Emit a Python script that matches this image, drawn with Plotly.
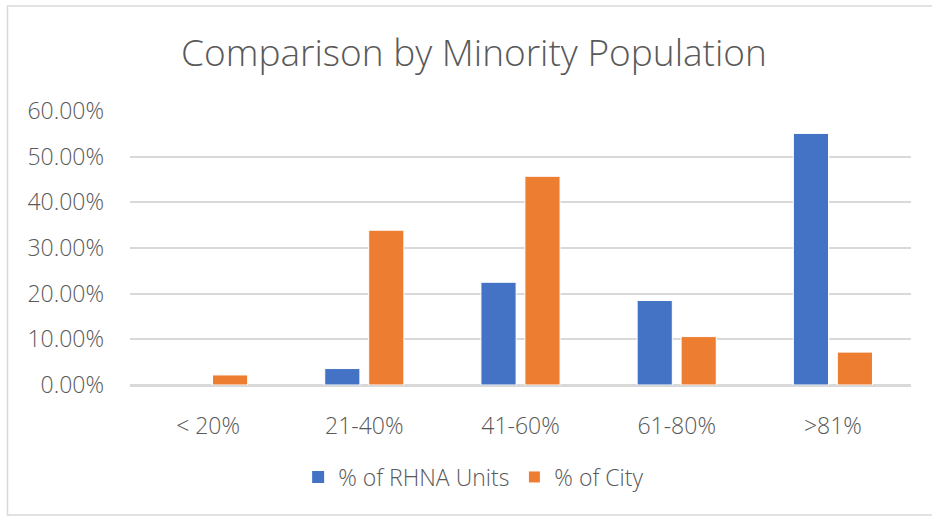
import plotly.graph_objects as go

# Share of units / city area by minority-population band
categories = ["< 20%", "21-40%", "41-60%", "61-80%", ">81%"]
rhna_units = [0.0, 0.036, 0.225, 0.185, 0.551]
city_share = [0.022, 0.339, 0.457, 0.106, 0.072]

tick_vals = [0, 0.1, 0.2, 0.3, 0.4, 0.5, 0.6]
tick_text = ["0.00%", "10.00%", "20.00%", "30.00%", "40.00%", "50.00%", "60.00%"]

BLUE = "#4472C4"
ORANGE = "#ED7D31"
TEXT = "#595959"
GRID = "#D9D9D9"
FONT = "Open Sans"

W, H = 932, 516
L, R, T, B = 130, 21, 111, 131
pw, ph = W - L - R, H - T - B


def px_x(px):
    return (px - L) / pw


def px_y(py):
    return (H - B - py) / ph


def outline_widths(values):
    # no white outline on empty bars so the baseline stays unbroken
    return [0 if v == 0 else 1 for v in values]


label_font = dict(family=FONT, size=23, color=TEXT, weight=300)

fig = go.Figure()
fig.add_trace(go.Bar(
    x=categories, y=rhna_units, name="% of RHNA Units",
    marker=dict(color=BLUE, line=dict(color="white", width=outline_widths(rhna_units))),
))
fig.add_trace(go.Bar(
    x=categories, y=city_share, name="% of City",
    marker=dict(color=ORANGE, line=dict(color="white", width=outline_widths(city_share))),
))

fig.update_layout(
    width=W, height=H,
    margin=dict(l=L, r=R, t=T, b=B),
    paper_bgcolor="white", plot_bgcolor="white",
    barmode="group", bargap=0.437, bargroupgap=0.2,
    font=label_font,
    title=dict(
        text="Comparison by Minority Population",
        x=px_x(474), xref="paper", xanchor="center",
        y=1 - 53 / H, yanchor="middle",
        font=dict(family=FONT, size=37, color=TEXT, weight=300),
    ),
    showlegend=True,
    legend=dict(
        orientation="h", x=0.44, xanchor="center",
        y=px_y(477), yanchor="middle",
        font=label_font,
        itemwidth=30, traceorder="normal",
    ),
    xaxis=dict(
        showgrid=False, showline=True, linecolor=GRID, linewidth=1.5,
        ticks="", ticklabelstandoff=20,
        tickfont=label_font,
    ),
    yaxis=dict(
        range=[0, 0.6], tickvals=tick_vals, ticktext=tick_text,
        showgrid=True, gridcolor=GRID, gridwidth=1.5,
        zeroline=True, zerolinecolor=GRID, zerolinewidth=1.5,
        showline=False, ticks="", ticklabelstandoff=25,
        tickfont=label_font,
    ),
    shapes=[
        dict(type="rect", xref="paper", yref="paper",
             x0=px_x(7.5), x1=px_x(940), y0=px_y(515), y1=px_y(6),
             line=dict(color=GRID, width=1.5), fillcolor="rgba(0,0,0,0)",
             layer="below"),
    ],
)

fig.write_html("out.html")
